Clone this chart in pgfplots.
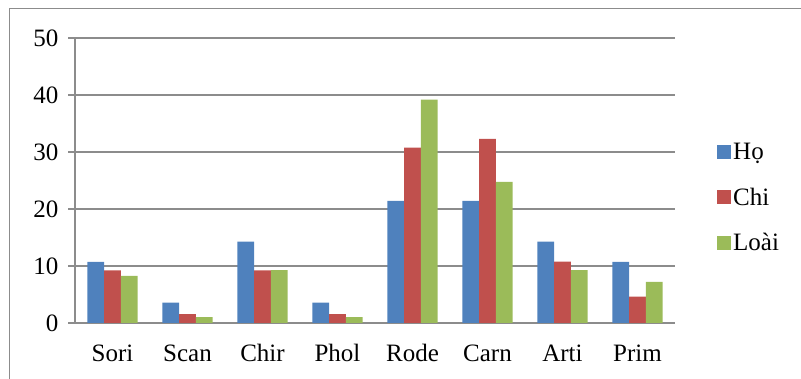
\documentclass[border=0pt]{standalone}
\usepackage{pgfplots}
\pgfplotsset{compat=1.18}
\usepackage{fontspec}
\setmainfont{Liberation Serif}
\definecolor{cBlue}{HTML}{4F81BD}
\definecolor{cRed}{HTML}{C0504D}
\definecolor{cGreen}{HTML}{9BBB59}
\definecolor{cGrid}{HTML}{8C8C8C}
\pgfplotstableread{
x ho chi loai
0 10.71 9.23 8.25
1 3.57 1.54 1.03
2 14.29 9.23 9.28
3 3.57 1.54 1.03
4 21.43 30.77 39.18
5 21.43 32.31 24.74
6 14.29 10.77 9.28
7 10.71 4.62 7.22
}\datatable
\begin{document}
\begin{tikzpicture}
\path[use as bounding box] (0pt,0pt) rectangle (801pt,379pt);
\draw[cGrid, line width=1pt] (9pt,0pt) -- (9pt,370pt) -- (801pt,370pt);
\begin{axis}[
  at={(75pt,56pt)}, anchor=south west,
  scale only axis, width=600pt, height=285pt,
  xmin=-0.5, xmax=7.5, ymin=0, ymax=50,
  ybar=0pt, bar width=16.7pt,
  axis lines*=left,
  axis line style={cGrid, line width=1.2pt},
  xtick={0,...,7},
  xticklabels={Sori,Scan,Chir,Phol,Rode,Carn,Arti,Prim},
  major x tick style={draw=none},
  extra x ticks={-0.5,0.5,...,7.5},
  extra x tick labels={},
  extra x tick style={major tick length=7pt, tick align=outside, tick style={cGrid, line width=1.2pt}, grid=none},
  ytick={0,10,...,50},
  ymajorgrids, grid style={cGrid, line width=1.2pt},
  y tick style={cGrid, line width=1.2pt},
  tick align=outside, major tick length=7pt,
  /pgf/number format/assume math mode=true,
  tick label style={font=\fontsize{25}{30}\selectfont, text=black},
  xticklabel style={yshift=-11pt},
  yticklabel style={xshift=-6pt},
  legend style={at={(1.065,0.44)}, anchor=west, draw=none, fill=none,
    font=\fontsize{25}{30}\selectfont, row sep=23pt},
  legend cell align=left,
  legend image code/.code={\fill[#1] (0pt,-7pt) rectangle (14pt,7pt);},
]
\addplot[fill=cBlue, draw=none] table[x=x, y=ho] {\datatable};
\addplot[fill=cRed, draw=none] table[x=x, y=chi] {\datatable};
\addplot[fill=cGreen, draw=none] table[x=x, y=loai] {\datatable};
\legend{Họ, Chi, Loài}
\end{axis}
\end{tikzpicture}
\end{document}
